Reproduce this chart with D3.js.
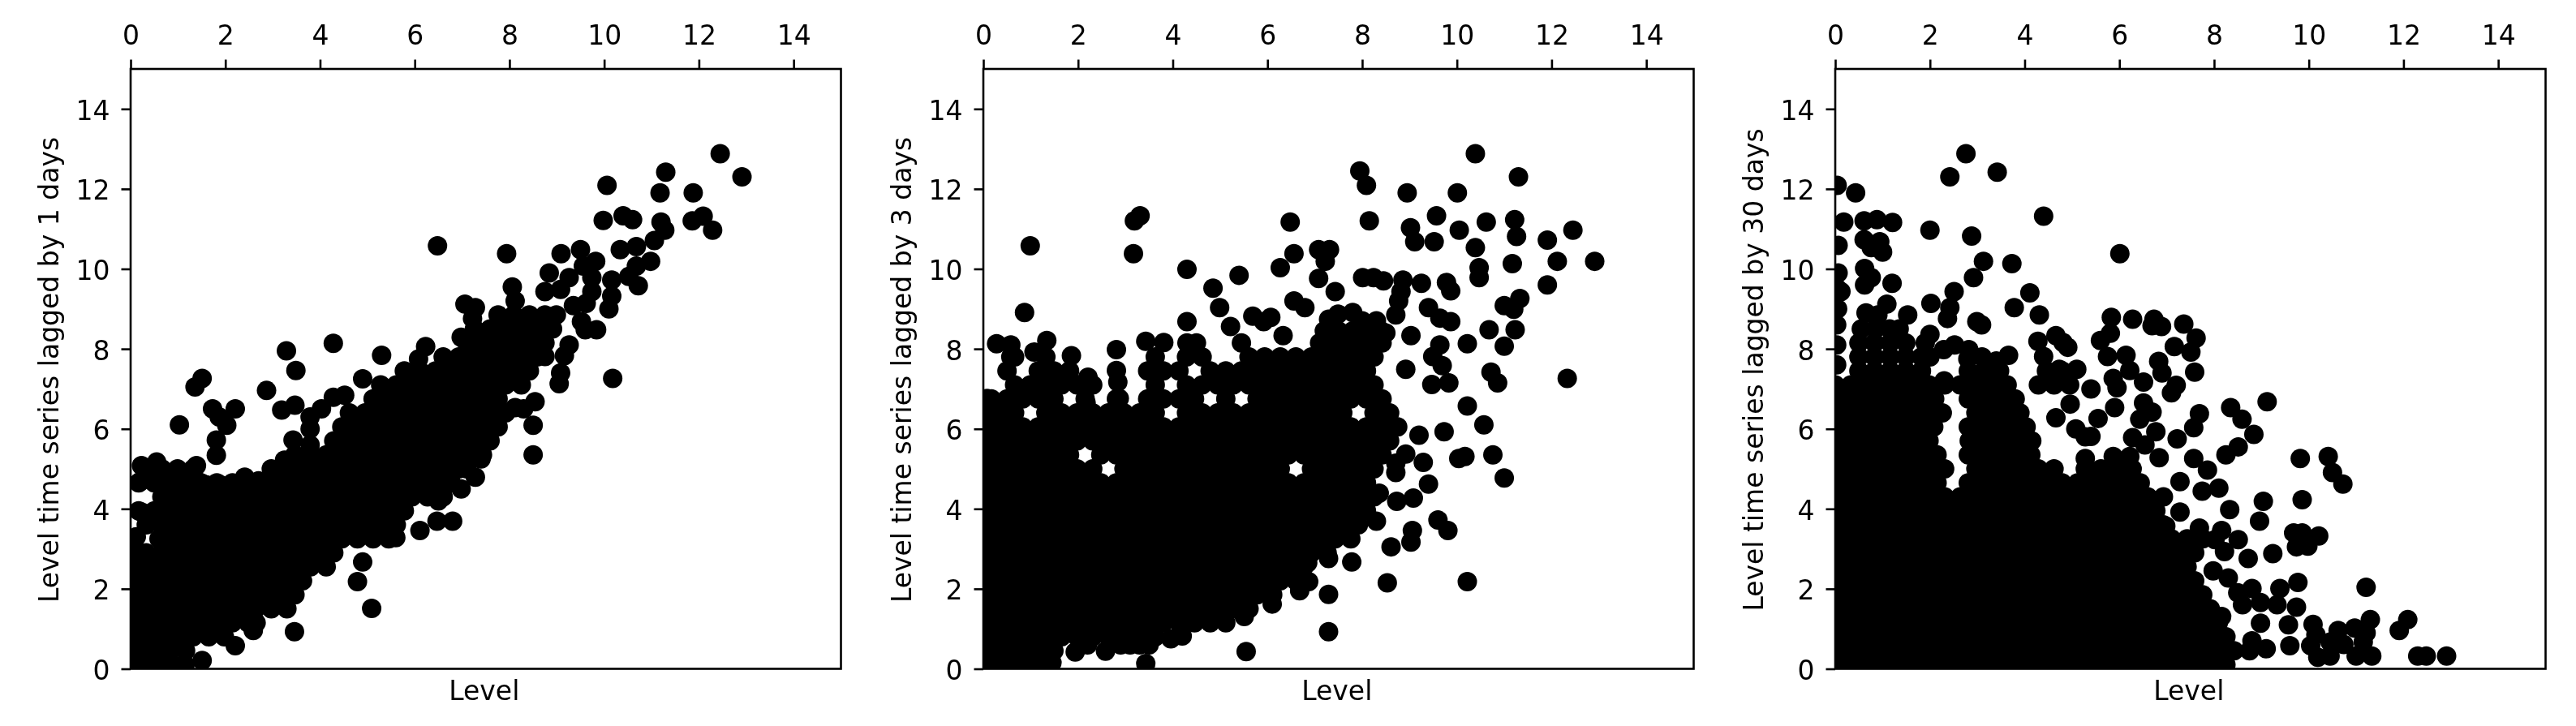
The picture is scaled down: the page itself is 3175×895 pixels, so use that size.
<!DOCTYPE html>
<html><head><meta charset="utf-8">
<script src="https://cdn.jsdelivr.net/npm/d3@7"></script>
<style>html,body{margin:0;background:#fff}svg{display:block;filter:blur(.7px)}text{font-family:"DejaVu Sans";font-size:33px;fill:#000}</style>
</head><body><svg id="c" width="3175" height="895"></svg>
<script>
const tickLabels=[0,2,4,6,8,10,12,14];
const lags=[1,3,30];
const lag1Sparse=[[12.45,12.88],[12.91,12.3],[11.3,12.42],[10.06,12.09],[11.18,11.9],[11.88,11.9],[9.98,11.21],[10.4,11.33],[10.6,11.23],[11.2,11.17],[11.28,10.97],[11.86,11.2],[12.09,11.32],[12.29,10.97],[11.06,10.71],[10.68,10.56],[10.34,10.48],[6.48,10.58],[7.94,10.38],[9.09,10.38],[9.5,10.48],[9.82,10.19],[10.98,10.19],[10.68,10.07],[8.84,9.9],[9.56,10.07],[10.16,9.72],[10.52,9.81],[10.72,9.58],[9.26,9.78],[9.74,9.78],[8.75,9.43],[9.08,9.49],[10.16,9.32],[10.1,9],[9.35,9.08],[9.74,9.43],[9.62,9.14],[8.06,9.55],[8.12,9.2],[7.06,9.12],[7.28,9.03],[7.22,8.76],[8.99,8.85],[9.52,8.68],[9.84,8.48],[9.6,8.48],[9.26,8.1],[9.16,7.83],[9.08,7.4],[9.05,7.13],[10.18,7.26],[8.75,7.81],[5.3,7.84],[4.28,8.14],[3.29,7.95],[3.49,7.46],[1.51,7.26],[1.36,7.05],[2.87,6.96],[1.03,6.1],[1.73,6.5],[2.21,6.5],[2.03,6.09],[1.87,6.3],[1.81,5.72],[1.81,5.34],[3.19,6.47],[3.47,6.59],[3.43,5.72],[3.79,6.3],[3.79,6],[3.79,5.6],[3.25,5.22],[4.03,6.5],[4.28,6.79],[4.52,6.84],[4.9,7.25],[6.23,8.06],[6.08,7.75],[6.98,8.29],[8.54,6.68],[8.12,6.53],[8.3,6.5],[8.5,6.09],[8.5,5.35],[7.4,5.25],[7.28,4.79],[6.98,4.5],[6.5,4.2],[6.8,3.69],[6.47,3.69],[6.11,3.46],[5.6,3.28],[4.9,2.67],[4.79,2.18],[5.09,1.51],[3.46,.93],[2.21,.58],[2.59,.96],[1.51,.21],[1.15,.1],[.23,5.08],[.55,5.17],[1.39,5.08],[2.41,4.79],[.2,4.68],[.23,3.92],[.2,2.65],[.45,4.8],[.7,4.7],[.9,4.4],[1.2,3.9],[1.4,4.7],[1.6,4.6],[1.9,4.6],[2.2,4.6],[2.7,4.7],[3,4.8],[.12,3.3],[.2,2.9]];
const lag1RowY=[.1,.45,.8,1.15,1.5,1.85,2.2,2.55,2.9,3.25,3.6,3.95,4.3,4.65,5,5.35,5.7,6.05,6.4,6.75,7.1,7.45,7.8,8.15,8.5,8.85];
const lag1RowX=[
[0,.33,.66,.9],
[.17,.5,.83,1.16],
[0,.33,.66,.99,1.32,1.65,1.98],
[.17,.5,.83,1.16,1.49,1.82,2.15,2.48,2.65],
[0,.33,.66,.99,1.32,1.65,1.98,2.31,2.64,2.97,3.3],
[.17,.5,.83,1.16,1.49,1.82,2.15,2.48,2.81,3.14,3.47],
[0,.33,.66,.99,1.32,1.65,1.98,2.31,2.64,2.97,3.3,3.63],
[.17,.5,.83,1.16,1.49,1.82,2.15,2.48,2.81,3.14,3.47,3.8,4.13],
[.1,.33,.66,.99,1.32,1.65,1.98,2.31,2.64,2.97,3.3,3.63,3.96,4.29],
[.6,.83,1.16,1.49,1.82,2.15,2.48,2.81,3.14,3.47,3.8,4.13,4.46,4.79,5.12,5.45],
[.33,.66,.99,1.32,1.65,1.98,2.31,2.64,2.97,3.3,3.63,3.96,4.29,4.62,4.95,5.28,5.61],
[.17,.5,.83,1.16,1.49,1.82,2.15,2.48,2.81,3.14,3.47,3.8,4.13,4.46,4.79,5.12,5.45,5.78],
[.66,.99,1.32,1.65,1.98,2.31,2.64,2.97,3.3,3.63,3.96,4.29,4.62,4.95,5.28,5.61,5.94,6.27,6.6],
[.17,.5,.83,1.16,1.49,1.82,2.15,2.48,2.81,3.14,3.47,3.8,4.13,4.46,4.79,5.12,5.45,5.78,6.11,6.44,6.77],
[.33,.66,.99,1.32,2.97,3.3,3.63,3.96,4.29,4.62,4.95,5.28,5.61,5.94,6.27,6.6,6.93,7.1],
[3.47,3.8,4.13,4.46,4.79,5.12,5.45,5.78,6.11,6.44,6.77,7.1,7.43],
[4.29,4.62,4.95,5.28,5.61,5.94,6.27,6.6,6.93,7.26,7.59],
[4.46,4.79,5.12,5.45,5.78,6.11,6.44,6.77,7.1,7.43,7.76],
[4.62,4.95,5.28,5.61,5.94,6.27,6.6,6.93,7.26,7.59,7.92],
[5.12,5.45,5.78,6.11,6.44,6.77,7.1,7.43,7.76],
[5.28,5.61,5.94,6.27,6.6,6.93,7.26,7.59,7.92,8.25],
[5.78,6.11,6.44,6.77,7.1,7.43,7.76,8.09,8.42],
[6.6,6.93,7.26,7.59,7.92,8.25,8.58],
[7.1,7.43,7.76,8.09,8.42,8.75],
[7.26,7.59,7.92,8.25,8.58,8.91],
[7.76,8.09,8.42,8.75]];
const lag3Sparse=[[10.39,12.88],[7.95,12.45],[8.09,12.09],[11.3,12.3],[8.95,11.9],[10.01,11.9],[3.31,11.33],[3.19,11.2],[6.48,11.17],[8.15,11.2],[9.57,11.33],[10.62,11.17],[11.22,11.23],[9.02,11.03],[10.05,10.97],[11.26,10.81],[12.45,10.97],[11.91,10.72],[.99,10.58],[9.11,10.68],[9.52,10.68],[10.39,10.53],[3.17,10.38],[6.56,10.38],[7.08,10.48],[7.31,10.48],[7.22,10.19],[4.3,9.99],[6.27,10.03],[10.47,10.03],[10.47,9.78],[11.17,10.13],[12.12,10.19],[12.91,10.19],[5.4,9.84],[4.85,9.52],[7.08,9.76],[7.43,9.43],[8.01,9.78],[8.24,9.78],[8.45,9.7],[8.86,9.72],[9.25,9.64],[9.78,9.66],[9.87,9.45],[11.91,9.6],[11.33,9.26],[8.82,9.43],[8.77,9.2],[6.56,9.2],[6.79,9.03],[4.99,9.03],[.87,8.91],[11,9.08],[11.2,8.99],[9.4,9.03],[9.64,8.77],[9.87,8.68],[8.71,8.85],[5.69,8.82],[5.92,8.68],[6.07,8.79],[4.3,8.68],[5.22,8.56],[7.29,8.74],[7.49,8.87],[7.8,8.91],[8,8.7],[8.3,8.7],[8.5,8.4],[10.68,8.48],[11.23,8.48],[1.34,8.21],[.28,8.13],[.58,8.1],[1.07,7.92],[1.86,7.83],[2.81,7.98],[3.43,8.19],[3.81,8.16],[9.03,8.33],[10.22,8.13],[11,8.07],[6.33,8.33],[9.64,8.1],[9.49,7.81],[9.69,7.58],[8.92,7.49],[10.72,7.42],[10.86,7.15],[9.47,7.11],[9.83,7.15],[12.33,7.26],[10.22,6.57],[10.57,6.1],[9.73,5.93],[9.2,5.84],[9.29,5.16],[8.92,5.37],[8.71,4.91],[8.71,5.14],[10.04,5.26],[10.17,5.31],[10.76,5.35],[11,4.77],[9.4,4.62],[9.08,4.27],[8.73,4.19],[8.36,4.39],[8.3,3.69],[9.6,3.72],[9.81,3.46],[9.06,3.46],[9.03,3.17],[8.61,3.05],[8.53,2.15],[10.22,2.18],[7.78,2.67],[7.29,2.76],[6.85,2.65],[6.87,2.18],[6.68,1.95],[7.29,1.86],[7.29,.93],[5.55,.43],[3.43,.13],[1.45,.15],[6.1,1.62],[5.51,1.31],[4.2,.82],[1.94,.42],[2.58,.44],[2.21,7.29],[2.81,7.46],[2.84,7.17],[2.87,6.76],[2.17,6.65],[.58,7.8],[.08,6.76],[2.2,.6],[2.9,.6],[3.1,.6],[3.3,.6],[3.5,.6],[3.96,.75],[7.2,8.45],[7.5,8.45],[7.8,8.45],[8.1,8.45],[8.4,8.45]];
const lag3RowY=[.1,.45,.8,1.15,1.5,1.85,2.2,2.55,2.9,3.25,3.6,3.95,4.3,4.65,5,5.35,5.7,6.05,6.4,6.75,7.1,7.45,7.8,8.15];
const lag3RowX=[
[0,.33,.66,.99,1.32],
[.17,.5,.83,1.16,1.49],
[0,.33,.66,.99,1.32,1.65,1.98,2.31,2.64,2.97,3.3,3.63],
[.17,.5,.83,1.16,1.49,1.82,2.15,2.48,2.81,3.14,3.47,3.8,4.13,4.46,4.79,5.12],
[0,.33,.66,.99,1.32,1.65,1.98,2.31,2.64,2.97,3.3,3.63,3.96,4.29,4.62,4.95,5.28,5.61],
[.17,.5,.83,1.16,1.49,1.82,2.15,2.48,2.81,3.14,3.47,3.8,4.13,4.46,4.79,5.12,5.45,5.78,6.11],
[0,.33,.66,.99,1.32,1.65,1.98,2.31,2.64,2.97,3.3,3.63,3.96,4.29,4.62,4.95,5.28,5.61,5.94,6.27,6.6],
[.17,.5,.83,1.16,1.49,1.82,2.15,2.48,2.81,3.14,3.47,3.8,4.13,4.46,4.79,5.12,5.45,5.78,6.11,6.44,6.77],
[0,.33,.66,.99,1.32,1.65,1.98,2.31,2.64,2.97,3.3,3.63,3.96,4.29,4.62,4.95,5.28,5.61,5.94,6.27,6.6,6.93,7.26],
[.17,.5,.83,1.16,1.49,1.82,2.15,2.48,2.81,3.14,3.47,3.8,4.13,4.46,4.79,5.12,5.45,5.78,6.11,6.44,6.77,7.1,7.43,7.76],
[0,.33,.66,.99,1.32,1.65,1.98,2.31,2.64,2.97,3.3,3.63,3.96,4.29,4.62,4.95,5.28,5.61,5.94,6.27,6.6,6.93,7.26,7.59,7.92],
[.17,.5,.83,1.16,1.49,1.82,2.15,2.48,2.81,3.14,3.47,3.8,4.13,4.46,4.79,5.12,5.45,5.78,6.11,6.44,6.77,7.1,7.43,7.76,8.09],
[0,.33,.66,.99,1.32,1.65,1.98,2.31,2.64,2.97,3.3,3.63,3.96,4.29,4.62,4.95,5.28,5.61,5.94,6.27,6.6,6.93,7.26,7.59,7.92,8.25],
[.17,.5,.83,1.16,1.49,1.82,2.15,2.48,2.81,3.14,3.47,3.8,4.13,4.46,4.79,5.12,5.45,5.78,6.11,6.44,6.77,7.1,7.43,7.76,8.09],
[0,.33,.66,.99,1.32,1.65,1.98,2.31,2.97,3.3,3.63,3.96,4.29,4.62,4.95,5.28,5.61,5.94,6.27,6.93,7.26,7.59,7.92,8.25],
[.17,.5,.83,1.16,1.49,1.82,2.48,2.81,3.14,3.47,3.8,4.13,4.46,4.79,5.12,5.45,5.78,6.11,6.44,6.77,7.1,7.43,7.76,8.09,8.42],
[0,.33,.66,.99,1.32,1.65,1.98,2.31,2.64,2.97,3.3,3.63,3.96,4.29,4.62,4.95,5.28,5.61,5.94,6.27,6.6,6.93,7.26,7.59,7.92,8.25,8.58],
[.17,.5,.83,1.16,1.49,1.82,2.15,2.48,2.81,3.14,3.47,3.8,4.13,4.46,4.79,5.12,5.45,5.78,6.11,6.44,6.77,7.1,7.43,7.76,8.09,8.42,8.75],
[0,.33,.66,1.32,1.65,1.98,2.31,2.64,2.97,3.3,3.63,4.29,4.62,4.95,5.28,5.61,5.94,6.27,6.6,6.93,7.26,7.59,8.25,8.58],
[.17,.5,.83,1.16,1.49,2.15,2.81,3.47,3.8,4.13,4.46,5.12,5.78,6.11,6.44,6.77,7.1,7.43,7.76,8.09,8.42],
[.66,.99,1.32,1.65,1.98,2.31,3.63,4.29,4.62,4.95,5.28,5.61,5.94,6.27,6.6,6.93,7.26,7.59,7.92,8.25],
[.5,1.16,1.49,1.82,3.47,3.8,4.13,4.79,5.12,5.45,5.78,6.11,6.44,6.77,7.1,7.43,7.76,8.09],
[.66,1.32,3.63,4.29,4.62,5.61,5.94,6.27,6.6,6.93,7.26,7.59,7.92,8.25],
[4.3,4.5,5.45,7.1,7.43,7.76,8.09,8.42]];
const lag30Sparse=[[2.76,12.88],[2.42,12.3],[3.42,12.42],[.04,12.09],[.43,11.9],[4.4,11.32],[.61,11.2],[.88,11.23],[1.21,11.16],[.18,11.17],[2,10.97],[2.88,10.82],[.06,10.59],[.61,10.73],[.94,10.68],[1,10.42],[.76,10.53],[6.01,10.38],[3.13,10.19],[3.73,10.13],[.62,10.01],[.06,9.9],[2.92,9.78],[.76,9.78],[1.2,9.64],[.62,9.6],[.12,9.43],[2.51,9.43],[4.11,9.4],[1.09,9.12],[2.02,9.14],[2.42,9.03],[3.78,9.03],[4.31,8.85],[2.37,8.76],[1.53,8.85],[2.99,8.68],[3.09,8.6],[5.83,8.79],[6.28,8.74],[6.73,8.74],[6.89,8.56],[6.69,8.58],[7.36,8.62],[7.62,8.27],[5.6,8.21],[5.81,8.39],[4.66,8.33],[4.81,8.16],[4.91,8.04],[4.28,8.19],[2,8.36],[2.29,7.98],[2.52,8.1],[2.82,7.98],[3.66,7.84],[7.16,8.06],[7.51,7.92],[5.75,7.81],[6.14,7.84],[6.83,7.69],[7.59,7.42],[6.22,7.46],[5.87,7.26],[5.1,7.49],[4.73,7.49],[4.4,7.81],[7.2,7.09],[7.1,6.9],[6.51,7.17],[5.4,7],[5.95,7.03],[9.12,6.68],[8.35,6.53],[8.59,6.24],[8.84,5.86],[4.96,6.62],[4.66,6.28],[5.55,6.26],[5.9,6.53],[7.69,6.38],[7.57,6.03],[6.51,6.65],[6.69,6.42],[6.43,6.24],[6.77,5.93],[6.28,5.78],[6.54,5.6],[7.22,5.75],[5.08,6],[5.28,5.8],[5.4,5.81],[8.51,5.55],[8.25,5.35],[7.57,5.26],[9.82,5.26],[10.41,5.31],[10.5,4.91],[10.72,4.62],[5.28,5.26],[5.87,5.31],[6.22,5.31],[6.84,5.28],[7.86,4.97],[7.28,4.68],[8.1,4.52],[7.75,4.44],[9.86,4.23],[9.04,4.19],[8.33,3.98],[8.96,3.69],[7.28,3.92],[6.98,3.57],[7.69,3.52],[9.68,3.4],[9.86,3.4],[10.21,3.32],[9.98,3.07],[9.74,3.05],[8.16,3.46],[8.02,3.23],[8.51,3.23],[8.22,2.93],[8.72,2.76],[9.24,2.88],[7.98,2.45],[8.3,2.27],[9.39,2.01],[9.77,2.16],[11.21,2.04],[8.8,2.01],[8.98,1.66],[9.74,1.54],[9.33,1.6],[8.16,1.31],[8.98,1.14],[9.57,1.1],[10.09,1.11],[11.3,1.23],[12.09,1.23],[11.91,.96],[10.62,.96],[10.97,1.02],[11.21,.9],[10.15,.85],[9.6,.58],[10.04,.58],[10.45,.67],[10.74,.61],[11.15,.67],[10.19,.29],[10.45,.32],[11,.32],[11.33,.32],[12.3,.32],[12.48,.32],[12.91,.32],[9.1,.5],[8.8,.7],[8.6,1.6],[8.5,1.9],[.03,7.6],[.03,8.1],[.03,8.6],[.05,9],[.05,9.5],[.65,8.9],[.9,8.85],[2,7.8],[2.3,7.2],[2.8,7.75],[3.1,7.8],[3.4,7.7],[6.9,7.4],[4.15,5.7],[4.03,6.05],[3.9,6.4],[2.83,5.7],[2.26,6.4]];
const lag30RowY=[.1,.45,.8,1.15,1.5,1.85,2.2,2.55,2.9,3.25,3.6,3.95,4.3,4.65,5,5.35,5.7,6.05,6.4,6.75,7.1,7.45,7.8,8.15,8.5];
const lag30RowX=[
[0,.33,.66,.99,1.32,1.65,1.98,2.31,2.64,2.97,3.3,3.63,3.96,4.29,4.62,4.95,5.28,5.61,5.94,6.27,6.6,6.93,7.26,7.59,7.92,8.25],
[.17,.5,.83,1.16,1.49,1.82,2.15,2.48,2.81,3.14,3.47,3.8,4.13,4.46,4.79,5.12,5.45,5.78,6.11,6.44,6.77,7.1,7.43,7.76,8.09,8.42,8.75],
[0,.33,.66,.99,1.32,1.65,1.98,2.31,2.64,2.97,3.3,3.63,3.96,4.29,4.62,4.95,5.28,5.61,5.94,6.27,6.6,6.93,7.26,7.59,7.92,8.25],
[.17,.5,.83,1.16,1.49,1.82,2.15,2.48,2.81,3.14,3.47,3.8,4.13,4.46,4.79,5.12,5.45,5.78,6.11,6.44,6.77,7.1,7.43,7.76,8.09],
[0,.33,.66,.99,1.32,1.65,1.98,2.31,2.64,2.97,3.3,3.63,3.96,4.29,4.62,4.95,5.28,5.61,5.94,6.27,6.6,6.93,7.26,7.59,7.92],
[.17,.5,.83,1.16,1.49,1.82,2.15,2.48,2.81,3.14,3.47,3.8,4.13,4.46,4.79,5.12,5.45,5.78,6.11,6.44,6.77,7.1,7.43,7.76],
[0,.33,.66,.99,1.32,1.65,1.98,2.31,2.64,2.97,3.3,3.63,3.96,4.29,4.62,4.95,5.28,5.61,5.94,6.27,6.6,6.93,7.26,7.59],
[.17,.5,.83,1.16,1.49,1.82,2.15,2.48,2.81,3.14,3.47,3.8,4.13,4.46,4.79,5.12,5.45,5.78,6.11,6.44,6.77,7.1,7.43],
[0,.33,.66,.99,1.32,1.65,1.98,2.31,2.64,2.97,3.3,3.63,3.96,4.29,4.62,4.95,5.28,5.61,5.94,6.27,6.6,6.93,7.26,7.59],
[.17,.5,.83,1.16,1.49,1.82,2.15,2.48,2.81,3.14,3.47,3.8,4.13,4.46,4.79,5.12,5.45,5.78,6.11,6.44,6.77,7.1,7.43,7.76],
[0,.33,.66,.99,1.32,1.65,1.98,2.31,2.64,2.97,3.3,3.63,3.96,4.29,4.62,4.95,5.28,5.61,5.94,6.27,6.6,6.93],
[.17,.5,.83,1.16,1.49,1.82,2.15,2.48,2.81,3.14,3.47,3.8,4.13,4.46,4.79,5.12,5.45,5.78,6.11,6.44,6.77],
[0,.33,.66,.99,1.32,1.65,1.98,2.31,2.64,2.97,3.3,3.63,3.96,4.29,4.62,4.95,5.28,5.61,5.94,6.27,6.6,6.93],
[.17,.5,.83,1.16,1.49,1.82,2.15,2.81,3.14,3.47,3.8,4.13,4.46,4.79,5.12,5.45,5.78,6.11,6.44],
[0,.33,.66,.99,1.32,1.65,1.98,2.31,2.97,3.3,3.63,3.96,4.29,4.62,5.28,5.61,5.94,6.27],
[.17,.5,.83,1.16,1.49,1.82,2.15,2.81,3.14,3.47,3.8,4.13],
[0,.33,.66,.99,1.32,1.65,1.98,2.97,3.3,3.63,3.96],
[.17,.5,.83,1.16,1.49,1.82,2.08,2.81,3.14,3.47,3.8],
[0,.33,.66,.99,1.32,1.65,1.98,2.97,3.3,3.63],
[.17,.5,.83,1.16,1.49,1.82,2.1,2.81,3.14,3.47,3.8],
[0,.33,.66,.99,1.32,1.65,1.98,2.31,2.64,2.97,3.3,3.63,4.29,4.62,4.95],
[.5,.83,1.16,1.49,1.82,2.81,3.14,3.47,4.46,4.79],
[.5,.83,1.16,1.49,1.82],
[.5,.83,1.16,1.49,1.9],
[.55,.85,1.15,1.35]];
const sparse=[lag1Sparse,lag3Sparse,lag30Sparse];
const rowY=[lag1RowY,lag3RowY,lag30RowY];
const rowX=[lag1RowX,lag3RowX,lag30RowX];
const axLeft=[161,1212,2262],axW=875.5,axTop=85,axBottom=824.5;
const svg=d3.select("#c");
lags.forEach((lag,i)=>{
  const x=d3.scaleLinear().domain([0,15]).range([axLeft[i],axLeft[i]+axW]);
  const y=d3.scaleLinear().domain([0,15]).range([axBottom,axTop]);
  const pts=sparse[i].concat(rowY[i].flatMap((v,k)=>rowX[i][k].map(u=>[u,v])));
  const id="clip"+i;
  svg.append("clipPath").attr("id",id).append("rect").attr("x",axLeft[i]).attr("y",axTop).attr("width",axW).attr("height",axBottom-axTop);
  svg.append("g").attr("clip-path",`url(#${id})`).selectAll("circle").data(pts).join("circle")
    .attr("cx",d=>x(d[0])).attr("cy",d=>y(d[1])).attr("r",12).attr("fill","#000");
  const top=svg.append("g").attr("transform",`translate(0,${axTop})`)
    .call(d3.axisTop(x).tickValues(tickLabels).tickSize(11.5).tickPadding(6).tickFormat(d3.format("d")));
  const left=svg.append("g").attr("transform",`translate(${axLeft[i]},0)`)
    .call(d3.axisLeft(y).tickValues(tickLabels).tickSize(11.5).tickPadding(14).tickFormat(d3.format("d")));
  [top,left].forEach(g=>{g.attr("font-family",null).attr("font-size",null);g.select(".domain").remove();
    g.selectAll("line").attr("stroke","#000").attr("stroke-width",2.6);g.selectAll("text").attr("fill","#000");});
  left.selectAll("text").attr("dy",null).attr("y",13);
  top.selectAll("text").attr("dy",null).attr("y",-30);
  svg.append("rect").attr("x",axLeft[i]).attr("y",axTop).attr("width",axW).attr("height",axBottom-axTop)
    .attr("fill","none").attr("stroke","#000").attr("stroke-width",2.6);
  svg.append("text").attr("x",axLeft[i]+axW/2-2).attr("y",863).attr("text-anchor","middle").text("Level");
  svg.append("text").attr("transform",`translate(${axLeft[i]-89},456) rotate(-90)`).attr("text-anchor","middle")
    .text(`Level time series lagged by ${lag} days`);
});
</script></body></html>
